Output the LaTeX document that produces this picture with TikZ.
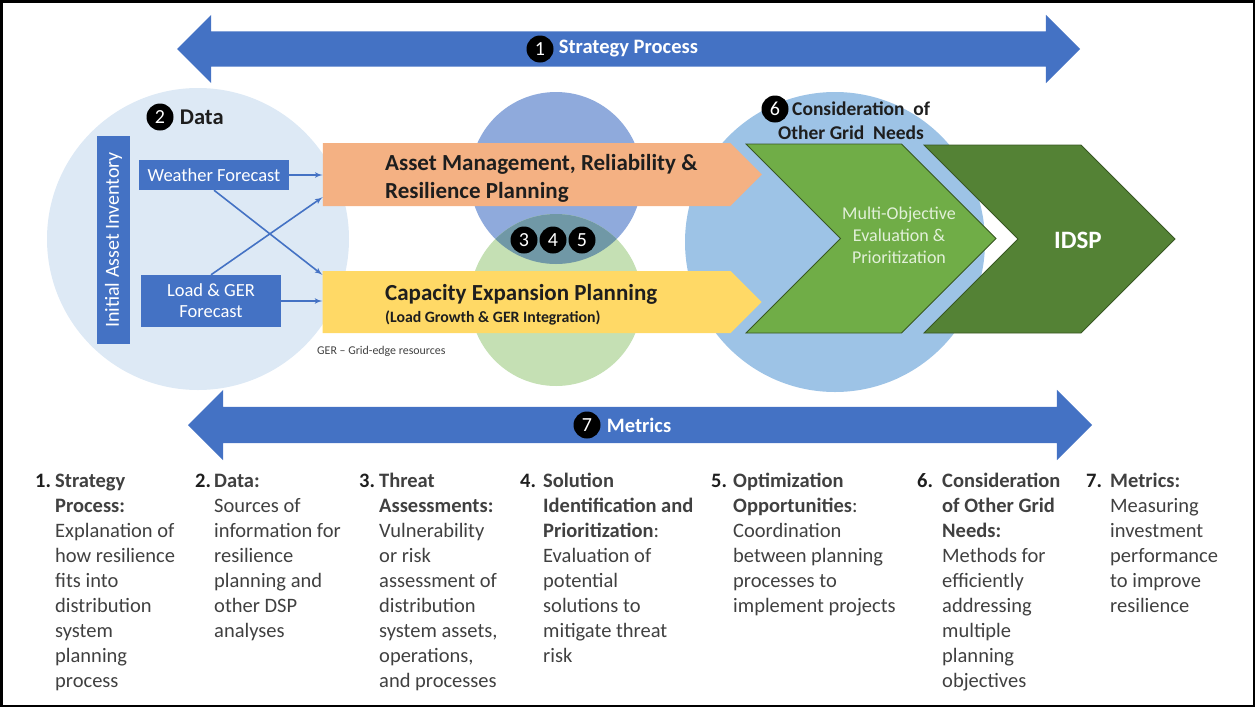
\documentclass[tikz,border=0pt]{standalone}
\usepackage{fontspec}
\setmainfont{Carlito}
\usetikzlibrary{shapes.arrows,shapes.symbols,arrows,positioning}
\definecolor{planblue}{RGB}{68,114,196}
\definecolor{datacirc}{RGB}{221,233,245}
\definecolor{threatblue}{RGB}{143,170,220}
\definecolor{solgreen}{RGB}{197,224,180}
\definecolor{lensteal}{RGB}{112,152,166}
\definecolor{gridcirc}{RGB}{157,195,230}
\definecolor{amrorange}{RGB}{244,177,131}
\definecolor{capyellow}{RGB}{255,217,102}
\definecolor{evalgreen}{RGB}{112,173,71}
\definecolor{idspgreen}{RGB}{84,130,53}
\definecolor{chevline}{RGB}{56,87,35}
\definecolor{paletext}{RGB}{226,240,217}
\definecolor{bodygray}{RGB}{64,64,64}
\definecolor{headgray}{RGB}{30,30,30}
\newcommand{\fsz}[2]{\fontsize{#1}{#2}\selectfont}
\tikzstyle{bigarrow} = [double arrow, fill=planblue, inner sep=0pt,
    double arrow head extend=17pt]
\tikzstyle{arrowtext} = [inner sep=0pt, text=white, font=\bfseries\fsz{20.5}{22}]
\tikzstyle{numdot} = [circle, fill=black, text=white, inner sep=0pt,
    minimum size=27pt, font=\fsz{20}{20}]
\tikzstyle{databox} = [rectangle, fill=planblue, text=white, inner sep=0pt,
    align=center, font=\fsz{18.5}{21}]
\tikzstyle{planbar} = [signal, signal to=east, inner sep=0pt,
    minimum width=439pt]
\tikzstyle{chevron} = [signal, signal from=west, signal to=east, draw=chevline,
    line width=0.8pt, inner sep=0pt, minimum width=250pt, minimum height=189pt]
\tikzstyle{bartitle} = [anchor=base west, inner sep=0pt, text=headgray,
    align=left, font=\bfseries\fsz{23}{28}]
\tikzstyle{numlbl} = [anchor=base west, inner sep=0pt, text=headgray,
    font=\bfseries\fsz{20.5}{25}]
\tikzstyle{coltext} = [anchor=base west, inner sep=0pt, text=bodygray,
    align=left, font=\fsz{20.5}{25}]
\tikzstyle{feedline} = [draw=planblue, line width=1.6pt, -latex']

\begin{document}
\begin{tikzpicture}[x=1pt, y=-1pt]
  \useasboundingbox (0,0) rectangle (1255,707);
  % background circles
  \fill [datacirc] (198,239) circle [radius=151];
  \fill [threatblue] (556,178) circle [radius=86];
  \fill [solgreen] (556,300) circle [radius=86];
  \begin{scope}
    \clip (556,178) circle [radius=86];
    \fill [lensteal] (556,300) circle [radius=86];
  \end{scope}
  \fill [gridcirc] (835,242) circle [radius=150];
  % strategy and metrics arrows
  \node [bigarrow, double arrow head extend=16.5pt, minimum height=903pt] (strategy) at (628.5,49) {\rule{0pt}{35pt}};
  \node [numdot] (sp1) at (540,49) {1};
  \node [arrowtext, right=5pt of sp1] (sptext) {Strategy Process};
  \node [bigarrow, minimum height=904pt] (metrics) at (640,425) {\rule{0pt}{36pt}};
  \node [numdot] (mt7) at (587,425) {7};
  \node [arrowtext, right=6pt of mt7] (mttext) {Metrics};
  % data
  \node [numdot] (dt2) at (160,117) {2};
  \node [inner sep=0pt, text=headgray, font=\bfseries\fsz{22.5}{24}, right=6pt of dt2] (dttext) {Data};
  \node [databox, font=\fsz{20}{21}, rotate=90, minimum width=208pt, minimum height=33pt] (inventory) at (113.5,240) {Initial Asset Inventory};
  \node [databox, minimum width=150pt, minimum height=30pt] (wf) at (214,175) {Weather Forecast};
  \node [databox, minimum width=140pt, minimum height=52pt] (lg) at (211,301) {Load \& GER\\Forecast};
  % planning bars
  \node [planbar, fill=amrorange, minimum height=63pt] (amr) at (526.5,174.5) {};
  \node [planbar, fill=capyellow, minimum height=62pt] (cep) at (526.5,302) {};
  \node [bartitle] (amrtext) at (385,198.5) {Asset Management, Reliability \&\\Resilience Planning};
  \node [bartitle] (ceptext) at (385,300.5) {Capacity Expansion Planning};
  \node [bartitle, font=\bfseries\fsz{15.8}{18}] (cepsub) at (385,322) {(Load Growth \& GER Integration)};
  \node [anchor=west, inner sep=0pt, text=bodygray, font=\fsz{11.9}{13}] (gernote) at (317,351) {GER – Grid-edge resources};
  \node [numdot] (th3) at (524,240) {3};
  \node [numdot] (so4) at (553,240) {4};
  \node [numdot] (op5) at (582,240) {5};
  % other grid needs
  \node [chevron, fill=evalgreen] (eval) at (871,238.5) {};
  \node [chevron, fill=idspgreen, minimum width=251pt, minimum height=188pt] (idsp) at (1049.5,239) {};
  \node [numdot] (og6) at (775,109) {6};
  \node [bartitle, font=\bfseries\fsz{19.5}{24}] (ogtext) at (792,115) {Consideration~~of};
  \node [bartitle, font=\bfseries\fsz{19.5}{24}] (ogtext2) at (778,139) {Other Grid~~Needs};
  \node [inner sep=0pt, text=paletext, align=center, font=\fsz{18}{22}] (evaltext) at (899,235) {Multi-Objective\\Evaluation \&\\Prioritization};
  \node [inner sep=0pt, text=white, font=\bfseries\fsz{25}{26}] (idsptext) at (1078,240) {IDSP};
  % data feeds
  \path [feedline] (wf.east) -- (wf.east -| amr.west);
  \path [feedline] (lg.east) -- (lg.east -| cep.west);
  \path [feedline] (wf.south) -- ([yshift=-4pt]cep.north west);
  \path [feedline] (lg.north) -- ([yshift=9pt]amr.south west);
  % legend columns (anchored on the last line)
  \node [numlbl] (n1) at (35,487) {1.};
  \node [coltext] (c1) at (55,687) {\textbf{Strategy}\\\textbf{Process:}\\Explanation of\\how resilience\\fits into\\distribution\\system\\planning\\process};
  \node [numlbl] (n2) at (195,487) {2.};
  \node [coltext] (c2) at (214,637) {\textbf{Data:}\\Sources of\\information for\\resilience\\planning and\\other DSP\\analyses};
  \node [numlbl] (n3) at (359,487) {3.};
  \node [coltext] (c3) at (379,687) {\textbf{Threat}\\\textbf{Assessments:}\\Vulnerability\\or risk\\assessment of\\distribution\\system assets,\\operations,\\and processes};
  \node [numlbl] (n4) at (520,487) {4.};
  \node [coltext] (c4) at (543,662) {\textbf{Solution}\\\textbf{Identification and}\\\textbf{Prioritization}:\\Evaluation of\\potential\\solutions to\\mitigate threat\\risk};
  \node [numlbl] (n5) at (711,487) {5.};
  \node [coltext] (c5) at (733,612) {\textbf{Optimization}\\\textbf{Opportunities}:\\Coordination\\between planning\\processes to\\implement projects};
  \node [numlbl] (n6) at (917,487) {6.};
  \node [coltext] (c6) at (942,687) {\textbf{Consideration}\\\textbf{of Other Grid}\\\textbf{Needs:}\\Methods for\\efficiently\\addressing\\multiple\\planning\\objectives};
  \node [numlbl] (n7) at (1086,487) {7.};
  \node [coltext] (c7) at (1110,612) {\textbf{Metrics:}\\Measuring\\investment\\performance\\to improve\\resilience};
  % frame
  \draw [line width=2.5pt] (1.25,1.25) rectangle (1253.75,705.75);
\end{tikzpicture}
\end{document}
